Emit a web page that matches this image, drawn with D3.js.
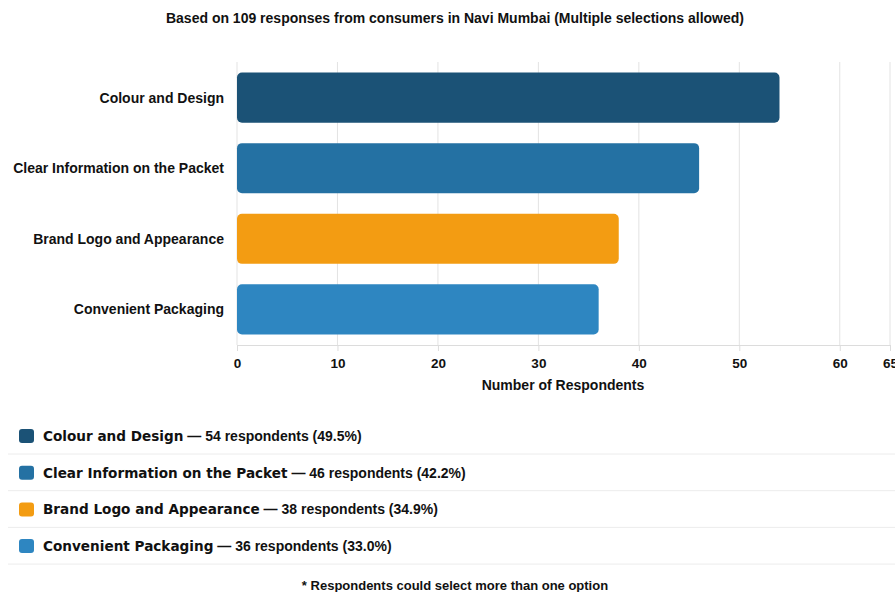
<!DOCTYPE html>
<html><head><meta charset="utf-8">
<script src="https://cdn.jsdelivr.net/npm/d3@7"></script>
<style>body{margin:0;background:#fff;}svg{display:block;font-family:"Liberation Sans",Arial,sans-serif;}</style>
</head><body>
<svg id="c" width="895" height="592"></svg>
<script>
const categories = ["Colour and Design","Clear Information on the Packet","Brand Logo and Appearance","Convenient Packaging"];
const values = [54,46,38,36];
const percents = ["49.5%","42.2%","34.9%","33.0%"];
const colors = ["#1b5276","#2471a3","#f39c12","#2e86c1"];
const xTicks = [0,10,20,30,40,50,60,65];
const title = "Based on 109 responses from consumers in Navi Mumbai (Multiple selections allowed)";
const xLabel = "Number of Respondents";
const footnote = "* Respondents could select more than one option";

const svg = d3.select("#c");
const m = {left:237, right:890, top:62, bottom:345};
const x = d3.scaleLinear().domain([0,65]).range([m.left,m.right]);
const y = d3.scaleBand().domain(categories).range([m.top,m.bottom]).paddingInner(0.29).paddingOuter(0.15);

svg.append("text").attr("x",455).attr("y",23).attr("text-anchor","middle")
  .attr("font-size",14).attr("font-weight","bold").attr("fill","#111").text(title);

// grid
svg.append("g").selectAll("line").data(xTicks).join("line")
  .attr("x1",d=>x(d)).attr("x2",d=>x(d)).attr("y1",m.top).attr("y2",m.bottom)
  .attr("stroke","#e3e3e3").attr("stroke-width",1);

// axis
const ax = svg.append("g").attr("transform",`translate(0,${m.bottom})`)
  .call(d3.axisBottom(x).tickValues(xTicks).tickSize(6).tickPadding(7));
ax.select(".domain").attr("stroke","#dcdcdc");
ax.selectAll(".tick line").attr("stroke","#dcdcdc");
ax.selectAll("text").attr("font-size",13.5).attr("font-weight","bold").attr("fill","#111")
  .attr("font-family","Liberation Sans, Arial, sans-serif");

svg.append("text").attr("x",563).attr("y",390).attr("text-anchor","middle")
  .attr("font-size",14).attr("font-weight","bold").attr("fill","#111").text(xLabel);

// bars
svg.append("g").selectAll("rect").data(categories).join("rect")
  .attr("x",x(0)).attr("y",d=>y(d)).attr("width",(d,i)=>x(values[i])-x(0))
  .attr("height",y.bandwidth()).attr("rx",5).attr("fill",(d,i)=>colors[i]);

// y labels
svg.append("g").selectAll("text").data(categories).join("text")
  .attr("x",224).attr("y",d=>y(d)+y.bandwidth()/2).attr("dy","0.35em").attr("text-anchor","end")
  .attr("font-size",14).attr("font-weight","bold").attr("fill","#111").text(d=>d);

// legend
const lg = svg.append("g");
categories.forEach((c,i)=>{
  const cy = 436 + i*36.7;
  lg.append("rect").attr("x",19).attr("y",cy-7).attr("width",15).attr("height",14).attr("rx",3).attr("fill",colors[i]);
  const t = lg.append("text").attr("x",43).attr("y",cy).attr("dy","0.35em").attr("fill","#111").attr("font-size",14);
  t.append("tspan").attr("font-weight","bold").attr("font-family","DejaVu Sans, Verdana, sans-serif").attr("font-size",13.6).text(c);
  t.append("tspan").attr("font-weight","bold").text(` — ${values[i]} respondents (${percents[i]})`);
  lg.append("line").attr("x1",8).attr("x2",895).attr("y1",cy+18).attr("y2",cy+18).attr("stroke","#ececec");
});

svg.append("text").attr("x",455).attr("y",590).attr("text-anchor","middle")
  .attr("font-size",13).attr("font-weight","bold").attr("fill","#111").text(footnote);
</script>
</body></html>
